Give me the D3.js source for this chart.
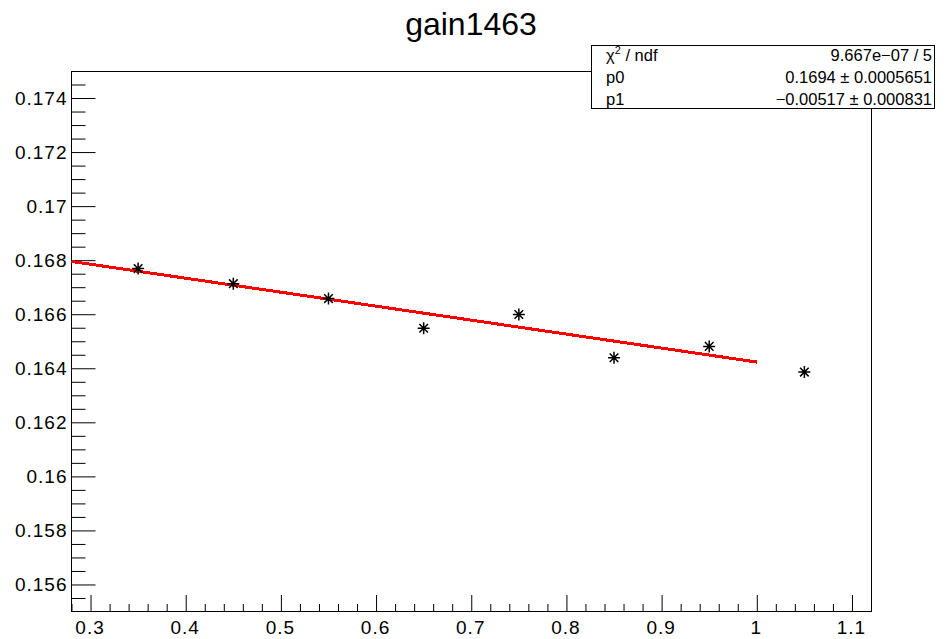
<!DOCTYPE html>
<html>
<head>
<meta charset="utf-8">
<script src="https://cdn.jsdelivr.net/npm/d3@7"></script>
<style>
  html, body { margin: 0; padding: 0; background: #fff; }
  svg { display: block; font-family: "Liberation Sans", Helvetica, Arial, sans-serif; }
</style>
</head>
<body>
<svg id="chart" width="951" height="639"></svg>
<script>
// Measured gain vs. x, with a linear fit (pol1)
const xValues    = [0.35, 0.45, 0.55, 0.65, 0.75, 0.85, 0.95, 1.05];
const gainValues = [0.16769, 0.16713, 0.16658, 0.16548, 0.16599, 0.16439, 0.16481, 0.16386];

const xTickValues = [0.3, 0.4, 0.5, 0.6, 0.7, 0.8, 0.9, 1.0, 1.1];
const xTickLabels = ["0.3", "0.4", "0.5", "0.6", "0.7", "0.8", "0.9", "1", "1.1"];
const yTickValues = [0.156, 0.158, 0.16, 0.162, 0.164, 0.166, 0.168, 0.17, 0.172, 0.174];
const yTickLabels = ["0.156", "0.158", "0.16", "0.162", "0.164", "0.166", "0.168", "0.17", "0.172", "0.174"];

const xDomain = [0.28, 1.12];
const yDomain = [0.155, 0.175];

// Fit parameters and range
const fitP0 = 0.1694;
const fitP1 = -0.00517;
const fitRange = [0.28, 1.0];

// Statistics box rows
const statNames  = ["χ2 / ndf", "p0", "p1"];
const statValues = ["9.667e\u221207 / 5", "0.1694 \u00b1 0.0005651", "\u22120.00517 \u00b1 0.000831"];

const titleText = "gain1463";

const svg = d3.select("#chart");

const frame = { left: 71.5, right: 871.5, top: 71, bottom: 611.5 };

const x = d3.scaleLinear().domain(xDomain).range([frame.left, frame.right - 0.5]);
const y = d3.scaleLinear().domain(yDomain).range([frame.bottom, frame.top]);

// Title
svg.append("text")
  .attr("x", 471)
  .attr("y", 35)
  .attr("text-anchor", "middle")
  .attr("font-size", 32)
  .attr("fill", "#000")
  .text(titleText);

// Minor tick values
const xMinor = d3.range(0, 43).map(i => +(0.28 + i * 0.02).toFixed(4))
  .filter(v => v >= xDomain[0] && v <= xDomain[1] && !xTickValues.some(t => Math.abs(t - v) < 1e-6));
const yMinor = d3.range(0, 41).map(i => +(0.155 + i * 0.0005).toFixed(5))
  .filter(v => v > yDomain[0] && v < yDomain[1] && !yTickValues.some(t => Math.abs(t - v) < 1e-7));

// X axis (ticks drawn inward)
const xAxisMajor = d3.axisBottom(x)
  .tickValues(xTickValues)
  .tickFormat((d, i) => xTickLabels[i])
  .tickSize(-16.5)
  .tickPadding(9);
const xAxisMinor = d3.axisBottom(x).tickValues(xMinor).tickFormat("").tickSize(-7.5);

const gx = svg.append("g").attr("transform", `translate(0,${frame.bottom})`);
gx.append("g").call(xAxisMinor);
gx.append("g").call(xAxisMajor);

// Y axis (ticks drawn inward)
const yAxisMajor = d3.axisLeft(y)
  .tickValues(yTickValues)
  .tickFormat((d, i) => yTickLabels[i])
  .tickSize(-24)
  .tickPadding(4);
const yAxisMinor = d3.axisLeft(y).tickValues(yMinor).tickFormat("").tickSize(-14);

const gy = svg.append("g").attr("transform", `translate(${frame.left},0)`);
gy.append("g").call(yAxisMinor);
gy.append("g").call(yAxisMajor);

svg.selectAll(".domain").remove();
svg.selectAll(".tick line").attr("stroke", "#000").attr("stroke-width", 1);
svg.selectAll(".tick text")
  .attr("font-size", 19)
  .attr("letter-spacing", "1px")
  .attr("fill", "#000")
  .attr("font-family", "\"Liberation Sans\", Helvetica, Arial, sans-serif");
gx.selectAll(".tick text").attr("dx", "-1");

// Frame
svg.append("rect")
  .attr("x", frame.left)
  .attr("y", frame.top + 0.5)
  .attr("width", frame.right - frame.left)
  .attr("height", frame.bottom - frame.top - 0.5)
  .attr("fill", "none")
  .attr("stroke", "#000")
  .attr("stroke-width", 1);

// Fit line
const fitX = d3.range(0, 101).map(i => fitRange[0] + (fitRange[1] - fitRange[0]) * i / 100);
const fitLine = d3.line()
  .x(d => x(d))
  .y(d => y(fitP0 + fitP1 * d));
svg.append("path")
  .datum(fitX)
  .attr("d", fitLine)
  .attr("fill", "none")
  .attr("stroke", "#ff0000")
  .attr("stroke-width", 3)
  .attr("shape-rendering", "crispEdges");

// Asterisk markers
const star = "M-6,0H6M0,-6V6M-4.3,-4.3L4.3,4.3M-4.3,4.3L4.3,-4.3";
svg.append("g")
  .selectAll("path")
  .data(xValues.map((v, i) => [v, gainValues[i]]))
  .join("path")
  .attr("transform", d => `translate(${x(d[0])},${y(d[1])})`)
  .attr("d", star)
  .attr("fill", "none")
  .attr("stroke", "#000")
  .attr("stroke-width", 1.5);

// Statistics box
const box = { x: 591.5, y: 45.5, w: 343, h: 63 };
const stats = svg.append("g");
stats.append("rect")
  .attr("x", box.x).attr("y", box.y)
  .attr("width", box.w).attr("height", box.h)
  .attr("fill", "#fff")
  .attr("stroke", "#000")
  .attr("stroke-width", 1);

const rowBase = [61, 83, 105];
statNames.forEach((name, i) => {
  const t = stats.append("text")
    .attr("x", 606)
    .attr("y", rowBase[i])
    .attr("font-size", 16.5)
    .attr("fill", "#000");
  if (i === 0) {
    t.append("tspan").text("χ");
    t.append("tspan").attr("font-size", 11).attr("dy", -7).text("2");
    t.append("tspan").attr("dy", 7).text(" / ndf");
  } else {
    t.text(name);
  }
  stats.append("text")
    .attr("x", 932)
    .attr("y", rowBase[i])
    .attr("text-anchor", "end")
    .attr("font-size", 16.5)
    .attr("fill", "#000")
    .text(statValues[i]);
});
</script>
</body>
</html>
